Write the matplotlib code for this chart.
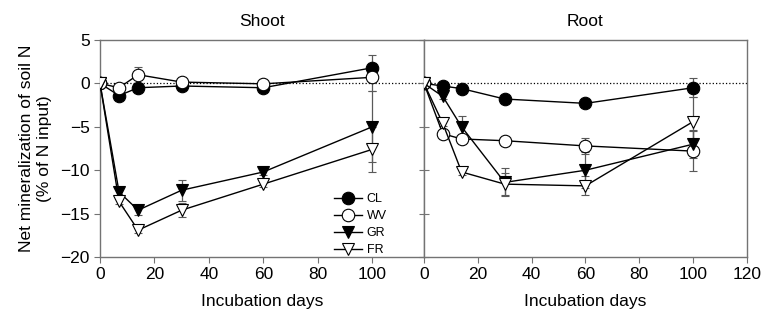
import matplotlib.pyplot as plt
from matplotlib.lines import Line2D

plt.rcParams['font.family'] = ['Liberation Sans', 'DejaVu Sans']

# Incubation days
days = [0, 7, 14, 30, 60, 100]

# Shoot panel (% of N input)
shoot_cl = [0, -1.4, -0.5, -0.3, -0.5, 1.8]
shoot_cl_err = [0, 0.3, 0.4, 0.2, 0.2, 1.5]
shoot_wv = [0, -0.5, 1.0, 0.15, -0.05, 0.7]
shoot_wv_err = [0, 0.3, 0.9, 0.2, 0.2, 1.6]
shoot_gr = [0, -12.5, -14.6, -12.3, -10.2, -5.0]
shoot_gr_err = [0, 0.3, 0.5, 1.2, 0.3, 4.1]
shoot_fr = [0, -13.6, -16.9, -14.6, -11.6, -7.6]
shoot_fr_err = [0, 0.3, 0.3, 0.8, 0.3, 2.6]

# Root panel (% of N input)
root_cl = [0, -0.3, -0.6, -1.8, -2.3, -0.5]
root_cl_err = [0, 0.2, 0.2, 0.2, 0.2, 1.1]
root_wv = [0, -5.8, -6.4, -6.6, -7.2, -7.8]
root_wv_err = [0, 0.3, 0.3, 0.3, 0.9, 2.3]
root_gr = [0, -1.5, -5.0, -11.4, -10.0, -7.0]
root_gr_err = [0, 0.3, 1.3, 1.6, 2.1, 1.6]
root_fr = [0, -4.6, -10.2, -11.6, -11.8, -4.4]
root_fr_err = [0, 0.3, 0.3, 1.3, 1.1, 2.8]

labels = ['CL', 'WV', 'GR', 'FR']
styles = [('o', 'black'), ('o', 'white'), ('v', 'black'), ('v', 'white')]

fig = plt.figure(figsize=(7.64, 3.25), dpi=100)
ax1 = fig.add_axes([0.1309, 0.209, 0.424, 0.668])
ax2 = fig.add_axes([0.5549, 0.209, 0.4228, 0.668])

panels = [
    (ax1, 'Shoot', [shoot_cl, shoot_wv, shoot_gr, shoot_fr],
     [shoot_cl_err, shoot_wv_err, shoot_gr_err, shoot_fr_err]),
    (ax2, 'Root', [root_cl, root_wv, root_gr, root_fr],
     [root_cl_err, root_wv_err, root_gr_err, root_fr_err]),
]

for ax, title, series, errs in panels:
    ax.axhline(0, color='black', linestyle=':', linewidth=0.9, zorder=1)
    for vals, err, lab, (mk, fc) in zip(series, errs, labels, styles):
        ax.errorbar(days, vals, yerr=err, color='black', ecolor='0.35',
                    elinewidth=0.9, capsize=3, capthick=0.9,
                    marker=mk, markersize=9, markerfacecolor=fc,
                    markeredgecolor='black', markeredgewidth=0.8,
                    linewidth=1.0, zorder=3)
    ax.set_ylim(-20, 5)
    ax.set_title(title, fontsize=12.5, pad=10)
    ax.set_xlabel('Incubation days', fontsize=12.5, labelpad=8)
    for sp in ax.spines.values():
        sp.set_color('0.45')
        sp.set_linewidth(1.0)
    ax.tick_params(labelsize=12.5, color='0.45', length=4)

ax1.set_xlim(0, 119)
ax1.set_xticks([0, 20, 40, 60, 80, 100])
ax1.set_yticks([5, 0, -5, -10, -15, -20])
ax1.tick_params(axis='y', direction='out')
ax1.set_ylabel('Net mineralization of soil N\n(% of N input)', fontsize=12.5, labelpad=6)

ax2.set_xlim(0, 120)
ax2.set_xticks([0, 20, 40, 60, 80, 100, 120])
ax2.set_yticks([5, 0, -5, -10, -15, -20])
ax2.tick_params(axis='y', direction='inout', length=7, labelleft=False)

# legend without the error bar glyphs
handles = [Line2D([], [], color='black', linewidth=1.0, marker=mk, markersize=9,
                  markerfacecolor=fc, markeredgecolor='black', markeredgewidth=0.8)
           for mk, fc in styles]
ax1.legend(handles, labels, loc='lower left', bbox_to_anchor=(0.70, -0.03),
           frameon=False, fontsize=9, handlelength=2.2, labelspacing=0.4,
           handletextpad=0.4, borderaxespad=0.2)

fig.savefig('out.png', dpi=100)
